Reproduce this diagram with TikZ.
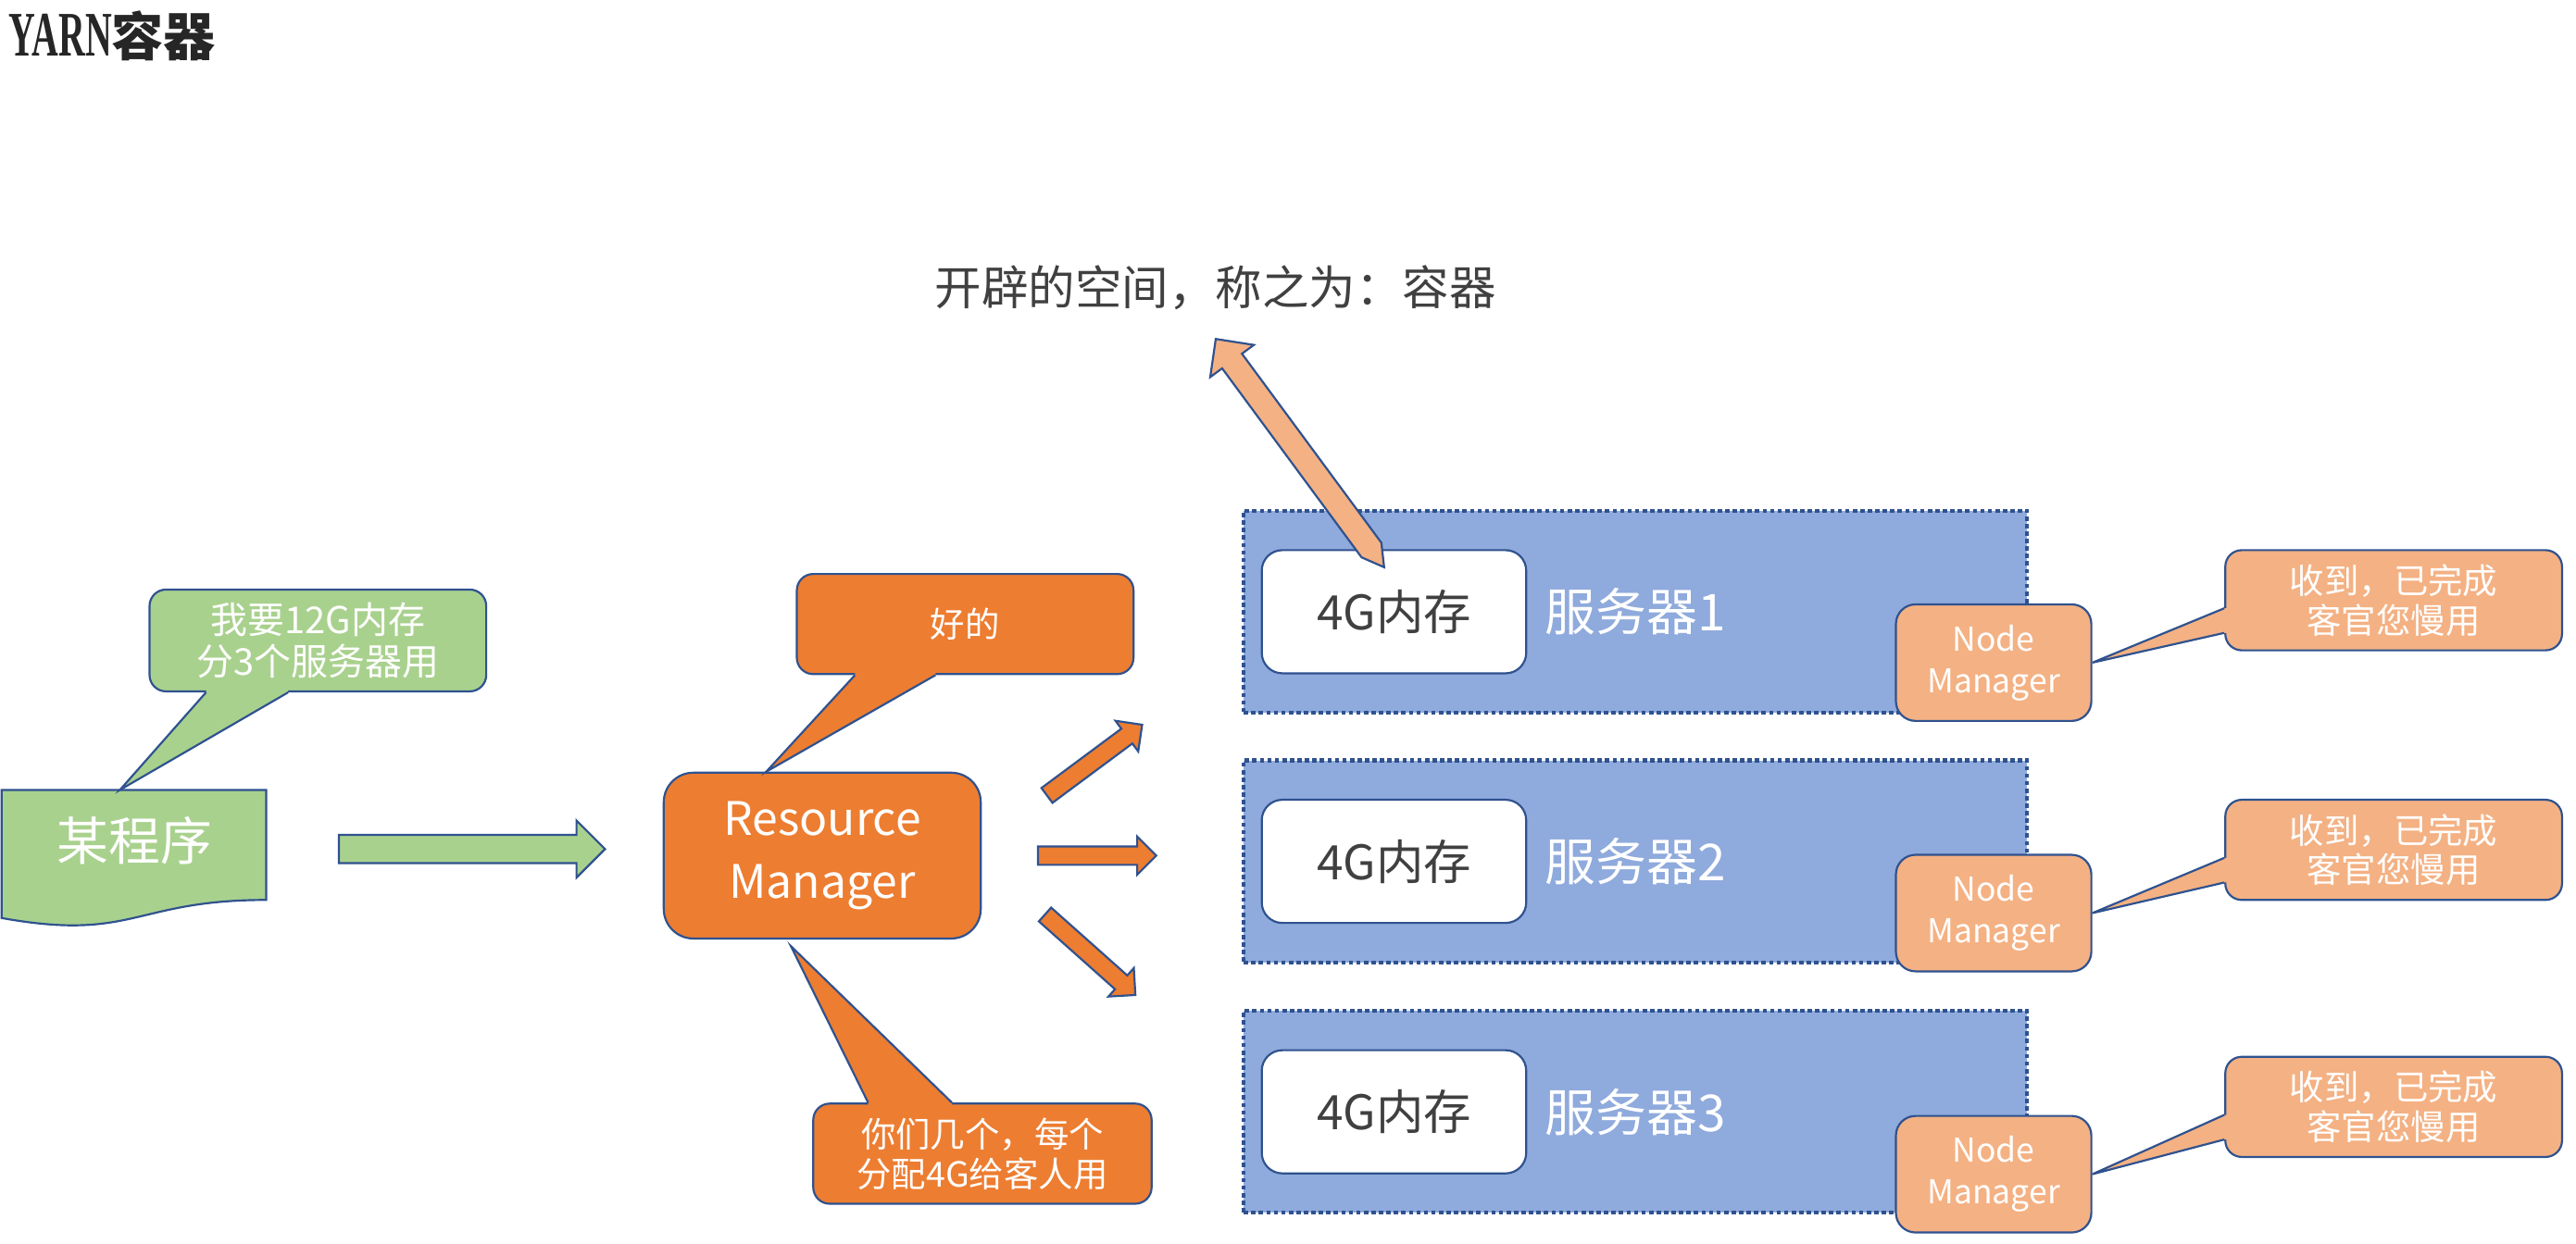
\documentclass[tikz,border=0pt]{standalone}
\usepackage{fontspec}
\usepackage{graphicx}
\setmainfont{Noto Sans CJK SC}
\newfontfamily\titleserif{Liberation Serif}
\usetikzlibrary{shapes.arrows,calc,positioning}

\definecolor{edgeblue}{HTML}{2F528F}
\definecolor{leafgreen}{HTML}{A9D18E}
\definecolor{rmorange}{HTML}{ED7D31}
\definecolor{nmpeach}{HTML}{F4B183}
\definecolor{serverblue}{HTML}{8FAADC}
\definecolor{inkgray}{HTML}{404040}
\definecolor{titleink}{HTML}{262626}

\tikzset{
  edgeline/.style={draw=edgeblue, line width=0.7pt},
  callout/.style={edgeline, rounded corners=0.2cm, minimum width=4.1cm, minimum height=1.22cm,
    align=center, text=white, font=\fontsize{12}{13.7}\selectfont},
  serverbox/.style={fill=serverblue, draw=edgeblue, line width=1.3pt,
    dash pattern=on 1.5pt off 1.1pt, minimum width=9.54cm, minimum height=2.46cm},
  membox/.style={edgeline, fill=white, rounded corners=0.25cm, minimum width=3.22cm,
    minimum height=1.5cm, text=inkgray, font=\fontsize{16.5}{18}\selectfont},
  nmbox/.style={edgeline, fill=nmpeach, rounded corners=0.24cm, minimum width=2.38cm,
    minimum height=1.42cm, align=center, text=white, font=\fontsize{11.4}{14.5}\selectfont},
  blockarrow/.style={single arrow, edgeline, inner xsep=0pt, inner ysep=0.1cm,
    single arrow head extend=0.12cm, minimum width=0.44cm},
}

\begin{document}
\begin{tikzpicture}[x=0.02cm, y=-0.02cm]
        \useasboundingbox (0,0) rectangle (1568,757);

        % title and note
        \node[anchor=west, inner sep=0pt, text=titleink, font=\bfseries\fontsize{18}{20}\selectfont] (title) at (5,22)
                {{\titleserif\fontsize{22}{22}\selectfont\scalebox{0.58}[1]{YARN}}容器};
        \node[text=inkgray, font=\fontsize{16.2}{18}\selectfont] (spacelbl) at (740,175) {开辟的空间，称之为：容器};

        % program
        \coordinate (docnw) at (1,481);
        \filldraw[edgeline, fill=leafgreen] (docnw) -- (162,481) -- (162,548)
                .. controls (81.5,548) and (81.5,573.5) .. (1,559) -- cycle;
        \node[text=white, font=\fontsize{17.9}{20}\selectfont] (prog) at (82,512) {某程序};

        \node[callout, fill=leafgreen, minimum height=1.24cm, font=\fontsize{12.8}{14.5}\selectfont] (ask) at (193.5,390)
                {我要12G内存\\分3个服务器用};
        \coordinate (progtip) at (73,481);
        \fill[leafgreen] ($(ask.south west)+(35,-2)$) -- ($(ask.south west)+(35,0)$) -- (progtip)
                -- ($(ask.south west)+(85,0)$) -- ($(ask.south west)+(85,-2)$) -- cycle;
        \draw[edgeline] ($(ask.south west)+(35,0)$) -- (progtip) -- ($(ask.south west)+(85,0)$);

        \node[blockarrow, fill=leafgreen, minimum height=3.24cm, minimum width=0.67cm, inner ysep=0.16cm,
                single arrow head extend=0.175cm] (sendarrow) at (283,517) {};

        % resource manager
        \node[edgeline, fill=rmorange, rounded corners=0.36cm, minimum width=3.86cm, minimum height=2.02cm,
                align=center, text=white, font=\fontsize{16}{21.6}\selectfont] (rm) at (500.5,521) {Resource\\Manager};

        \node[callout, fill=rmorange] (okcall) at (587.5,380) {好的};
        \fill[rmorange] ($(okcall.south west)+(36,-2)$) -- ($(okcall.south west)+(36,0)$) -- ($(rm.north west)+(63,0)$)
                -- ($(okcall.south west)+(85,0)$) -- ($(okcall.south west)+(85,-2)$) -- cycle;
        \draw[edgeline] ($(okcall.south west)+(36,0)$) -- ($(rm.north west)+(63,0)$) -- ($(okcall.south west)+(85,0)$);

        \node[callout, fill=rmorange, minimum width=4.12cm] (assign) at (598,702.5) {你们几个，每个\\分配4G给客人用};
        \fill[rmorange] ($(assign.north west)+(34,2)$) -- ($(assign.north west)+(34,0)$) -- ($(rm.south west)+(78,4)$)
                -- ($(assign.north west)+(85,0)$) -- ($(assign.north west)+(85,2)$) -- cycle;
        \draw[edgeline] ($(assign.north west)+(34,0)$) -- ($(rm.south west)+(78,4)$) -- ($(assign.north west)+(85,0)$);

        \node[blockarrow, fill=rmorange, minimum height=1.444cm, rotate=36.6] (fanup) at (664,464.5) {};
        \node[blockarrow, fill=rmorange, minimum height=1.44cm] (fanmid) at (665,521) {};
        \node[blockarrow, fill=rmorange, minimum height=1.474cm, rotate=-41.7] (fandown) at (661.5,579.5) {};

        % servers
        \foreach \i/\sy/\ny/\ry in {1/372.5/403.5/365.5, 2/524.5/556/517.5, 3/677/715/674} {
                \node[serverbox] (server\i) at (995.5,\sy) {};
                \node[membox] (mem\i) at (848.5,\sy) {4G内存};
                \node[anchor=west, inner sep=0pt, text=white, font=\fontsize{17.6}{20}\selectfont] (srvname\i) at (940,\sy) {服务器\i};
                \node[nmbox] (nm\i) at (1213.5,\ny) {Node\\Manager};
                \node[callout, fill=nmpeach] (reply\i) at (1457,\ry) {收到，已完成\\客官您慢用};
                \fill[nmpeach] ($(reply\i.north west)+(2,36)$) -- ($(reply\i.north west)+(0,36)$) -- (nm\i.east)
                        -- ($(reply\i.north west)+(0,51)$) -- ($(reply\i.north west)+(2,51)$) -- cycle;
                \draw[edgeline] ($(reply\i.north west)+(0,36)$) -- (nm\i.east) -- ($(reply\i.north west)+(0,51)$);
        }

        % container arrow
        \coordinate (holdtail) at ($(mem1.north)+(-6,11)$);
        \begin{scope}[shift={(holdtail)}, rotate=126.4]
                \filldraw[edgeline, fill=nmpeach] (0,0) -- (13,7.5) -- (156,7.5) -- (156,16.5) -- (172.7,0)
                        -- (156,-16.5) -- (156,-7.5) -- (13,-7.5) -- cycle;
        \end{scope}
\end{tikzpicture}
\end{document}
